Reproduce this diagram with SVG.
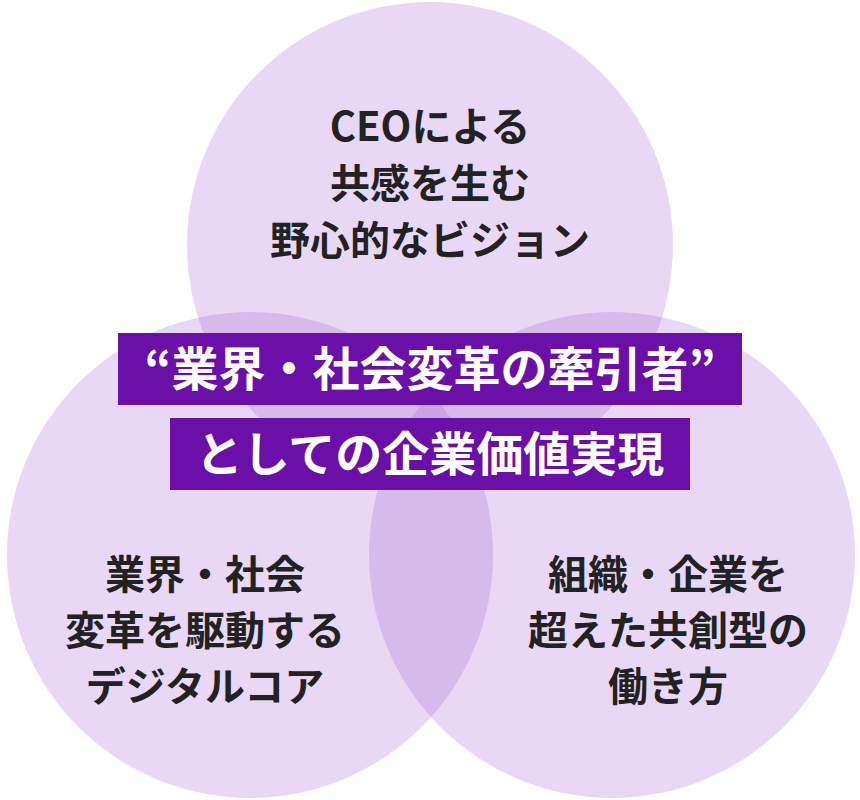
<svg xmlns="http://www.w3.org/2000/svg" width="860" height="800" viewBox="0 0 860 800">
<style>
.c{fill:#a05ad0;fill-opacity:0.24}
.t{font-family:"Noto Sans CJK JP","Noto Sans",sans-serif;font-weight:700;font-size:40px;fill:#222;text-anchor:middle}
.b{fill:#6a0fa8}
.bt{font-family:"Noto Sans CJK JP","Noto Sans",sans-serif;font-weight:700;font-size:47px;fill:#fff;text-anchor:middle}
</style>
<rect width="860" height="800" fill="#fff"/>
<g id="top"><circle class="c" cx="430" cy="245" r="243"/>
<text class="t" x="430" y="141">CEOによる</text><text class="t" x="430" y="198">共感を生む</text><text class="t" x="430" y="255">野心的なビジョン</text></g>
<g id="left"><circle class="c" cx="250" cy="555" r="243"/>
<text class="t" x="205" y="589">業界・社会</text><text class="t" x="205" y="645">変革を駆動する</text><text class="t" x="205" y="701">デジタルコア</text></g>
<g id="right"><circle class="c" cx="612" cy="555" r="243"/>
<text class="t" x="668" y="589">組織・企業を</text><text class="t" x="668" y="645">超えた共創型の</text><text class="t" x="668" y="701">働き方</text></g>
<g id="center">
<rect class="b" x="118" y="333" width="624" height="72"/>
<text class="bt" x="430" y="386">“業界・社会変革の牽引者”</text>
<rect class="b" x="170" y="418" width="520" height="72"/>
<text class="bt" x="430" y="471">としての企業価値実現</text>
</g>
<g id="connectors"/>
</svg>
